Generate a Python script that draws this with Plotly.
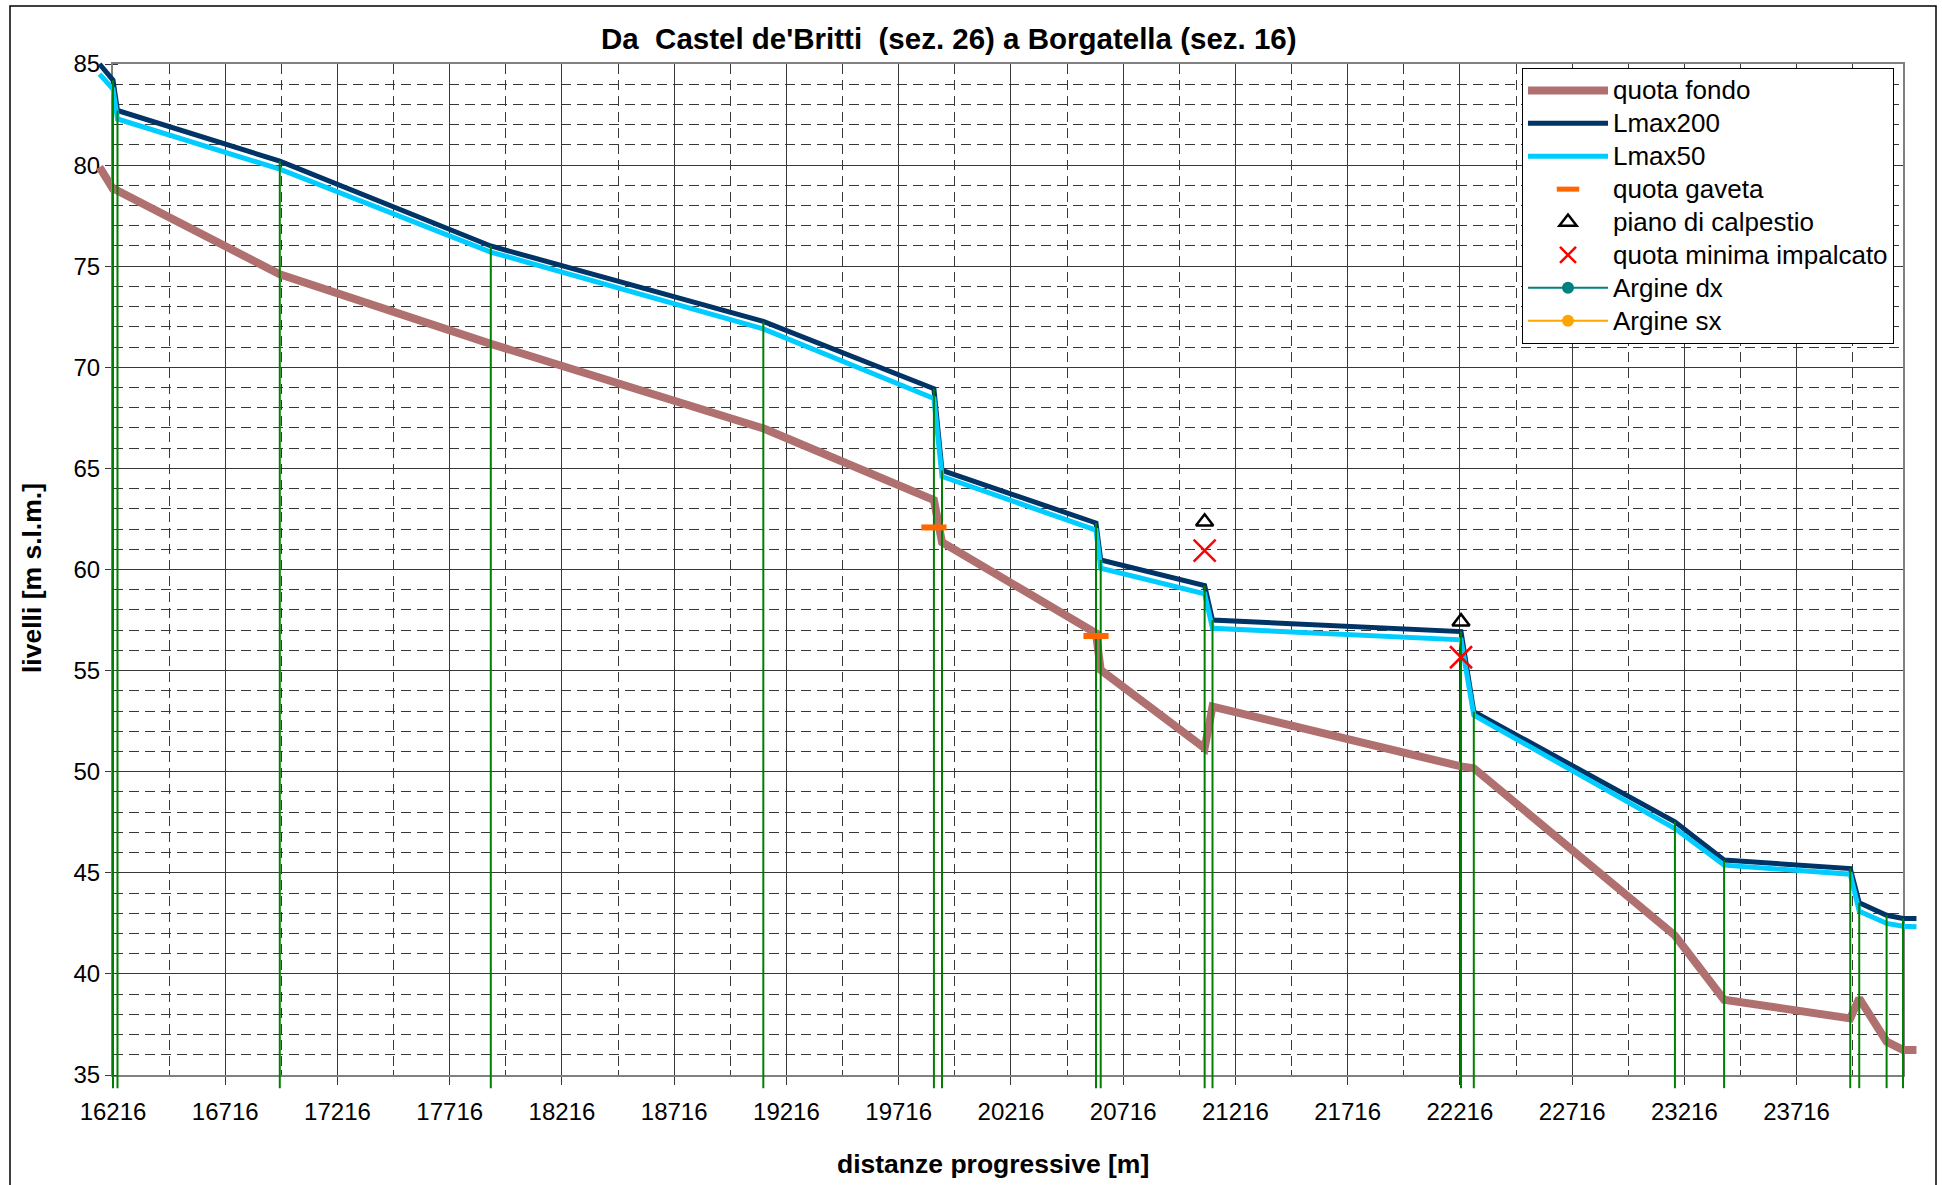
import plotly.graph_objects as go

# ---------------- data ----------------
progressive = [16156, 16216, 16236, 16959, 17899, 19113, 19873, 19909, 20595, 20616,
               21079, 21114, 22221, 22278, 23174, 23393, 23955, 23995, 24117, 24190, 24250]
quota_fondo = [79.9, 78.82, 78.74, 74.6, 71.16, 66.98, 63.43, 61.35, 56.85, 55.03,
               51.16, 53.22, 50.26, 50.17, 41.9, 38.72, 37.8, 38.79, 36.65, 36.24, 36.24]
lmax200 = [85.0, 84.2, 82.7, 80.2, 76.0, 72.27, 68.94, 64.9, 62.3, 60.47,
           59.2, 57.5, 56.93, 52.97, 47.52, 45.63, 45.21, 43.52, 42.9, 42.74, 42.74]
lmax50 = [84.5, 83.76, 82.28, 79.8, 75.7, 71.9, 68.46, 64.6, 61.95, 60.06,
          58.8, 57.09, 56.52, 52.8, 47.19, 45.38, 44.93, 43.1, 42.5, 42.36, 42.33]

gaveta_x = [19873, 20595]
gaveta_y = [62.08, 56.71]
calpestio_x = [21079, 22221]
calpestio_y = [62.36, 57.42]
impalcato_x = [21079, 22221]
impalcato_y = [60.93, 55.66]

# sections (green verticals): all inner vertices of the profile
sezioni_x = progressive[1:-1]
sezioni_top = lmax200[1:-1]
SEZ_BASE = 34.35

X_MIN, X_MAX = 16216, 24190
Y_MIN, Y_MAX = 35, 85
X_TICK0, X_DTICK, X_MINOR = 16216, 500, 250
Y_DTICK, Y_MINOR = 5, 1

TITLE = "<b>Da\u00a0 Castel de'Britti\u00a0 (sez. 26) a Borgatella (sez. 16)</b>"
X_TITLE = "<b>distanze progressive [m]</b>"
Y_TITLE = "<b>livelli [m s.l.m.]</b>"

# ---------------- layout geometry (pixels) ----------------
W, H = 1942, 1185
ML, MR, MT, MB = 60, 4, 30, 60
PL, PR, PT, PB = 113, 1903, 64, 1075      # plot area
OL, OR, OT, OB = 88, 1928, 50, 1095       # overflow drawing area

def px(x):
    return (x - ML) / (W - ML - MR)

def py(y):
    return (H - MB - y) / (H - MT - MB)

ppm = (PR - PL) / (X_MAX - X_MIN)
ppu = (PB - PT) / (Y_MAX - Y_MIN)
x2_range = [X_MIN - (PL - OL) / ppm, X_MAX + (OR - PR) / ppm]
y2_range = [Y_MIN - (OB - PB) / ppu, Y_MAX + (PT - OT) / ppu]

FONT = "Liberation Sans, Arial, sans-serif"
GRID = "#383838"
LEG = 26

def leg(name):
    return "<span style='font-size:%dpx'>%s</span>" % (LEG, name)

fig = go.Figure()

# section verticals
sx, sy = [], []
for x, top in zip(sezioni_x, sezioni_top):
    sx += [x, x, None]
    sy += [SEZ_BASE, top, None]

fig.add_trace(go.Scatter(x=progressive, y=quota_fondo, mode="lines", name=leg("quota fondo"),
                         line=dict(color="#B07070", width=8), xaxis="x2", yaxis="y2"))
fig.add_trace(go.Scatter(x=progressive, y=lmax200, mode="lines", name=leg("Lmax200"),
                         line=dict(color="#003366", width=5), xaxis="x2", yaxis="y2"))
fig.add_trace(go.Scatter(x=progressive, y=lmax50, mode="lines", name=leg("Lmax50"),
                         line=dict(color="#00CCFF", width=5), xaxis="x2", yaxis="y2"))
fig.add_trace(go.Scatter(x=sx, y=sy, mode="lines", showlegend=False, hoverinfo="skip",
                         line=dict(color="#008000", width=2), xaxis="x2", yaxis="y2"))
fig.add_trace(go.Scatter(x=gaveta_x, y=gaveta_y, mode="markers", name=leg("quota gaveta"),
                         marker=dict(symbol="line-ew-open", size=18, color="#FF6600",
                                     line=dict(color="#FF6600", width=6)),
                         xaxis="x2", yaxis="y2"))
fig.add_trace(go.Scatter(x=calpestio_x, y=calpestio_y, mode="markers", name=leg("piano di calpestio"),
                         marker=dict(symbol="triangle-up-open", size=15, color="black",
                                     line=dict(color="black", width=2.5)),
                         xaxis="x2", yaxis="y2"))
fig.add_trace(go.Scatter(x=impalcato_x, y=impalcato_y, mode="markers", name=leg("quota minima impalcato"),
                         marker=dict(symbol="x-thin-open", size=22, color="red",
                                     line=dict(color="red", width=2.5)),
                         xaxis="x2", yaxis="y2"))
# legend-only series (no points in this reach); they live on the main grid axes
fig.add_trace(go.Scatter(x=[None], y=[None], mode="lines+markers", name=leg("Argine dx"),
                         line=dict(color="#008080", width=2), marker=dict(size=12, color="#008080"),
                         xaxis="x", yaxis="y"))
fig.add_trace(go.Scatter(x=[None], y=[None], mode="lines+markers", name=leg("Argine sx"),
                         line=dict(color="#FFA500", width=2), marker=dict(size=12, color="#FFA500"),
                         xaxis="x", yaxis="y"))

fig.update_layout(
    width=W, height=H,
    margin=dict(l=ML, r=MR, t=MT, b=MB),
    paper_bgcolor="white",
    plot_bgcolor="rgba(0,0,0,0)",
    font=dict(family=FONT, color="black", size=24),
    showlegend=True,
    hovermode=False,
    legend=dict(x=px(1522), y=py(68), xanchor="left", yanchor="top",
                bgcolor="white", bordercolor="black", borderwidth=1,
                font=dict(family=FONT, size=23, color="black"),
                itemwidth=80, tracegroupgap=0, itemsizing="trace"),
    xaxis=dict(domain=[px(PL), px(PR)], range=[X_MIN, X_MAX], tick0=X_TICK0, dtick=X_DTICK,
               tickformat="d", ticklabelstandoff=6,
               ticks="outside", ticklen=8, tickcolor=GRID, tickwidth=1,
               tickfont=dict(family=FONT, size=24, color="black"),
               showgrid=True, gridcolor=GRID, gridwidth=1,
               minor=dict(dtick=X_MINOR, tick0=X_TICK0, ticks="inside", ticklen=5,
                          tickcolor=GRID, showgrid=True, gridcolor=GRID,
                          griddash="10px,6px", gridwidth=1),
               showline=True, linecolor="#808080", linewidth=2, mirror=True,
               zeroline=False, fixedrange=True, anchor="y"),
    yaxis=dict(domain=[py(PB), py(PT)], range=[Y_MIN, Y_MAX], dtick=Y_DTICK, tick0=0,
               tickformat="d",
               ticks="outside", ticklen=6, tickcolor=GRID, tickwidth=1,
               tickfont=dict(family=FONT, size=24, color="black"),
               showgrid=True, gridcolor=GRID, gridwidth=1,
               minor=dict(dtick=Y_MINOR, ticks="inside", ticklen=5, tickcolor=GRID,
                          showgrid=True, gridcolor=GRID, griddash="10px,6px", gridwidth=1),
               showline=True, linecolor="#808080", linewidth=2, mirror=True,
               zeroline=False, fixedrange=True, anchor="x"),
    xaxis2=dict(domain=[px(OL), px(OR)], range=x2_range, visible=False, anchor="y2",
                fixedrange=True),
    yaxis2=dict(domain=[py(OB), py(OT)], range=y2_range, visible=False, anchor="x2",
                fixedrange=True),
    annotations=[
        dict(text=TITLE, x=px(949), y=py(38), xref="paper", yref="paper",
             showarrow=False, xanchor="center", yanchor="middle",
             font=dict(family=FONT, size=29.5, color="black")),
        dict(text=X_TITLE, x=px(993), y=py(1164), xref="paper", yref="paper",
             showarrow=False, xanchor="center", yanchor="middle",
             font=dict(family=FONT, size=26.5, color="black")),
        dict(text=Y_TITLE, x=px(32), y=py(578), xref="paper", yref="paper",
             showarrow=False, xanchor="center", yanchor="middle", textangle=-90,
             font=dict(family=FONT, size=26.5, color="black")),
    ],
    shapes=[
        dict(type="rect", xref="paper", yref="paper",
             x0=px(10), x1=px(1936), y0=py(1195), y1=py(6),
             line=dict(color="black", width=1.5), fillcolor="rgba(0,0,0,0)", layer="below"),
    ],
)

fig.write_html("out.html", config={"displayModeBar": False},
               post_script="document.body.style.margin='0px';")
